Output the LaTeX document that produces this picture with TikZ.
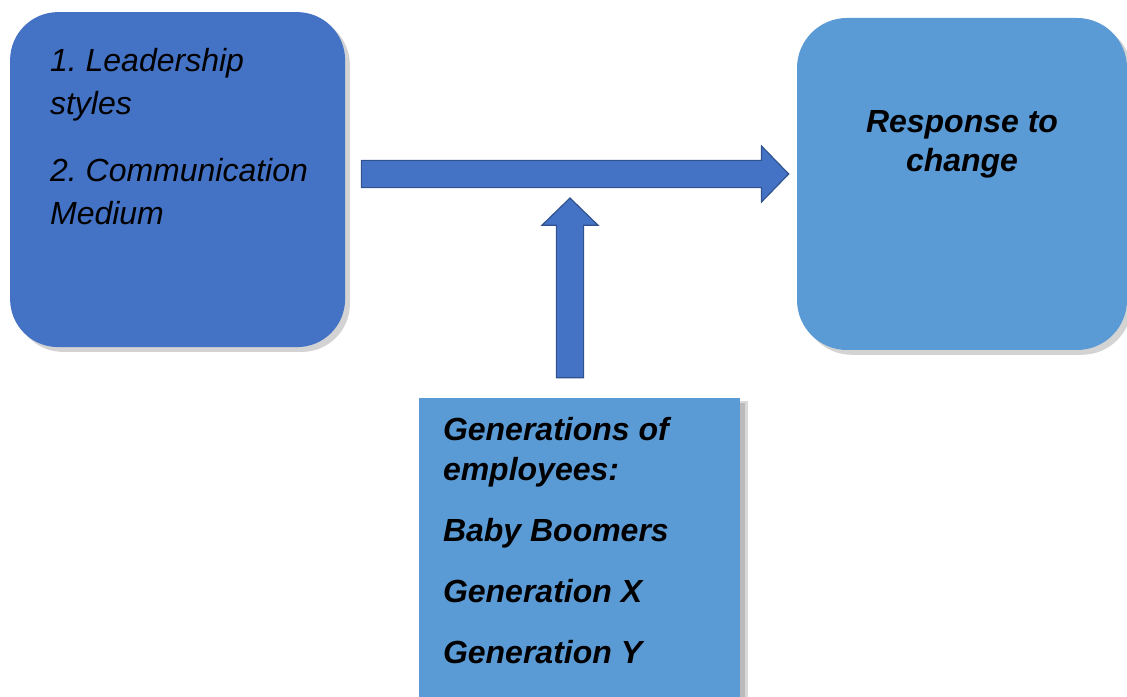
\documentclass[tikz,border=0pt]{standalone}
\usepackage{fontspec}
\setmainfont{Liberation Sans}
\usetikzlibrary{calc,shadows}
\definecolor{leadblue}{HTML}{4472C4}
\definecolor{paleblue}{HTML}{5B9BD5}
\definecolor{arrowedge}{HTML}{2F528F}
\frenchspacing

\begin{document}
\begin{tikzpicture}[
    bigbox/.style={draw=none, inner sep=0pt,
      drop shadow={shadow xshift=0.12cm, shadow yshift=-0.12cm, opacity=0.35}},
    boxtext/.style={inner sep=0pt, text=black},
    fatarrow/.style={draw=arrowedge, fill=leadblue, line width=0.8pt,
      to path={($(\tikztostart)!0.34cm!90:(\tikztotarget)$)
        -- ($(\tikztotarget)!0.68cm!(\tikztostart)!0.34cm!-90:(\tikztostart)$)
        -- ($(\tikztotarget)!0.68cm!(\tikztostart)!0.7cm!-90:(\tikztostart)$)
        -- (\tikztotarget)
        -- ($(\tikztotarget)!0.68cm!(\tikztostart)!0.7cm!90:(\tikztostart)$)
        -- ($(\tikztotarget)!0.68cm!(\tikztostart)!0.34cm!90:(\tikztostart)$)
        -- ($(\tikztostart)!0.34cm!-90:(\tikztotarget)$) -- cycle}}]
      \useasboundingbox (0,0) rectangle (28.175,17.4);
      \node[bigbox, fill=leadblue, rounded corners=1.2cm,
        minimum width=8.375cm, minimum height=8.375cm] (lead) at (4.44,12.91) {};
      \node[bigbox, fill=paleblue, rounded corners=1.25cm,
        minimum width=8.25cm, minimum height=8.3cm] (resp) at (24.05,12.8) {};
      \node[bigbox, fill=paleblue, minimum width=8.03cm, minimum height=7.9cm,
        drop shadow={shadow xshift=0.2cm, shadow yshift=-0.08cm, opacity=0.3}] (gen) at (14.49,3.5) {};
      \node[boxtext, anchor=north west, align=left,
        font=\fontsize{22.76pt}{30.6pt}\selectfont\itshape] (leadtext)
        at ([shift={(1.0,-0.9)}]lead.north west)
        {1. Leadership\\styles\\[0.6cm]2. Communication\\Medium};
      \node[boxtext, anchor=north, align=center,
        font=\fontsize{22.76pt}{28.4pt}\selectfont\bfseries\itshape] (resptext)
        at ([yshift=-2.3cm]resp.north) {Response to\\change};
      \node[boxtext, anchor=north west, align=left,
        font=\fontsize{22.76pt}{28.45pt}\selectfont\bfseries\itshape] (gentext)
        at ([shift={(0.6,-0.48)}]gen.north west)
        {Generations of\\employees:\\[0.53cm]Baby Boomers\\[0.53cm]Generation X\\[0.53cm]Generation Y};
      \coordinate (flowstart) at ([shift={(0.4,0.14)}]lead.east);
      \coordinate (flowend) at ([xshift=-0.2cm]resp.west |- flowstart);
      \coordinate (modstart) at ([shift={(-0.24,0.5)}]gen.north);
      \coordinate (modend) at ([yshift=-0.6cm]flowstart -| modstart);
      \draw[fatarrow] (flowstart) to (flowend);
      \draw[fatarrow] (modstart) to (modend);
    \end{tikzpicture}
\end{document}
